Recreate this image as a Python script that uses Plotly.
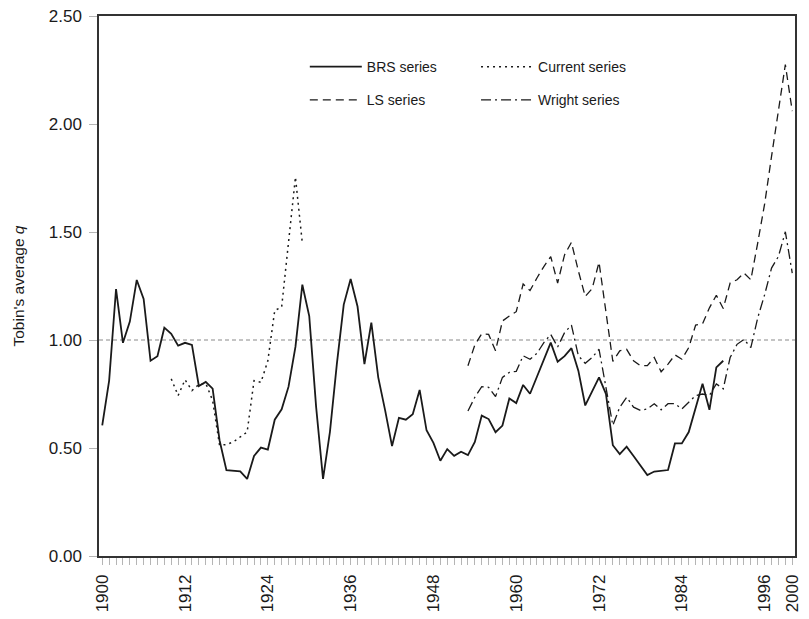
import plotly.graph_objects as go

# Tobin's average q, annual estimates 1900-2000
brs_years = list(range(1900, 1991))
brs_q = [
    0.605, 0.812, 1.236, 0.987, 1.085, 1.278, 1.190, 0.904, 0.925, 1.057,  # 1900-1909
    1.029, 0.974, 0.987, 0.977, 0.787, 0.806, 0.775, 0.536, 0.397, 0.395,  # 1910-1919
    0.392, 0.357, 0.463, 0.502, 0.493, 0.631, 0.679, 0.784, 0.968, 1.256,  # 1920-1929
    1.111, 0.689, 0.357, 0.575, 0.888, 1.164, 1.282, 1.155, 0.888, 1.080,  # 1930-1939
    0.827, 0.674, 0.509, 0.640, 0.631, 0.656, 0.769, 0.582, 0.524, 0.441,  # 1940-1949
    0.495, 0.464, 0.483, 0.467, 0.528, 0.650, 0.634, 0.573, 0.604, 0.729,  # 1950-1959
    0.708, 0.792, 0.751, 0.830, 0.907, 0.988, 0.899, 0.925, 0.962, 0.858,  # 1960-1969
    0.697, 0.761, 0.827, 0.751, 0.513, 0.472, 0.506, 0.463, 0.421, 0.375,  # 1970-1979
    0.391, 0.395, 0.398, 0.521, 0.521, 0.574, 0.689, 0.797, 0.677, 0.873,  # 1980-1989
    0.904,                                                                 # 1990
]

current_years = list(range(1910, 1930))
current_q = [
    0.820, 0.743, 0.816, 0.766, 0.794, 0.800, 0.720, 0.513, 0.516, 0.528,  # 1910-1919
    0.551, 0.574, 0.812, 0.804, 0.904, 1.137, 1.152, 1.450, 1.754, 1.448,  # 1920-1929
]

ls_years = list(range(1953, 2001))
ls_q = [
    0.881, 0.977, 1.029, 1.026, 0.950, 1.088, 1.111,                       # 1953-1959
    1.131, 1.259, 1.229, 1.287, 1.340, 1.386, 1.264, 1.394, 1.452, 1.320,  # 1960-1969
    1.202, 1.238, 1.360, 1.130, 0.901, 0.950, 0.957, 0.904, 0.881, 0.881,  # 1970-1979
    0.919, 0.853, 0.888, 0.931, 0.911, 0.965, 1.069, 1.075, 1.149, 1.207,  # 1980-1989
    1.146, 1.264, 1.279, 1.310, 1.279, 1.450, 1.630, 1.850, 2.060, 2.275,  # 1990-1999
    2.060,                                                                 # 2000
]

wright_years = list(range(1953, 2001))
wright_q = [
    0.671, 0.735, 0.784, 0.781, 0.738, 0.827, 0.850,                       # 1953-1959
    0.855, 0.927, 0.911, 0.938, 0.988, 1.026, 0.968, 1.034, 1.069, 0.927,  # 1960-1969
    0.892, 0.919, 0.957, 0.781, 0.605, 0.689, 0.735, 0.689, 0.674, 0.681,  # 1970-1979
    0.705, 0.677, 0.705, 0.705, 0.681, 0.712, 0.743, 0.750, 0.743, 0.797,  # 1980-1989
    0.774, 0.919, 0.980, 1.003, 0.965, 1.103, 1.210, 1.333, 1.387, 1.501,  # 1990-1999
    1.310,                                                                 # 2000
]

parity_q = 1.0
x_tick_years = [1900, 1912, 1924, 1936, 1948, 1960, 1972, 1984, 1996, 2000]
y_tick_values = [0.0, 0.5, 1.0, 1.5, 2.0, 2.5]
y_tick_labels = ["0.00", "0.50", "1.00", "1.50", "2.00", "2.50"]

FONT = "Liberation Sans, Arial, Helvetica, sans-serif"
INK = "#1a1a1a"

fig = go.Figure()

fig.add_trace(go.Scatter(
    x=brs_years, y=brs_q, mode="lines", name="BRS series",
    line=dict(color=INK, width=1.8), legend="legend", legendgroup="brs",
))
fig.add_trace(go.Scatter(
    x=ls_years, y=ls_q, mode="lines", name="LS series",
    line=dict(color=INK, width=1.3, dash="8px,5px"), legend="legend", legendgroup="ls",
))
fig.add_trace(go.Scatter(
    x=current_years, y=current_q, mode="lines", name="Current series",
    line=dict(color=INK, width=1.5, dash="2px,4px"), legend="legend2", legendgroup="cur",
))
fig.add_trace(go.Scatter(
    x=wright_years, y=wright_q, mode="lines", name="Wright series",
    line=dict(color=INK, width=1.3, dash="10px,4px,2px,4px"), legend="legend2", legendgroup="wr",
))

# q = 1 reference line
fig.add_hline(y=parity_q, line=dict(color="#8a8a8a", width=1.2, dash="4px,3px"), layer="below")

legend_common = dict(
    orientation="v", xanchor="left", yanchor="top",
    bgcolor="rgba(0,0,0,0)", borderwidth=0,
    font=dict(family=FONT, size=14, color=INK),
    traceorder="grouped", tracegroupgap=12,
    itemwidth=52,
)

fig.update_layout(
    width=809, height=619,
    margin=dict(l=99, r=7, t=16, b=59),
    paper_bgcolor="white", plot_bgcolor="white",
    font=dict(family=FONT, size=16, color=INK),
    showlegend=True,
    legend=dict(x=0.2957, y=0.935, **legend_common),
    legend2=dict(x=0.5417, y=0.935, **legend_common),
    xaxis=dict(
        range=[1899.53, 2000.4],
        tickmode="array", tickvals=x_tick_years, ticktext=[str(v) for v in x_tick_years],
        tickangle=-90,
        ticks="outside", ticklen=7, tickcolor="#b5b5b5", tickwidth=1,
        minor=dict(dtick=1, tick0=1900, ticks="outside", ticklen=7, tickcolor="#b5b5b5", tickwidth=1),
        showgrid=False, zeroline=False,
        showline=True, linecolor="#333333", linewidth=1.5, mirror=True,
        tickfont=dict(family=FONT, size=17, color=INK),
        ticklabelstandoff=3,
    ),
    yaxis=dict(
        range=[0, 2.5],
        tickmode="array", tickvals=y_tick_values, ticktext=y_tick_labels,
        ticks="outside", ticklen=8, tickcolor="#b5b5b5", tickwidth=1,
        showgrid=False, zeroline=False,
        showline=True, linecolor="#333333", linewidth=1.5, mirror=True,
        tickfont=dict(family=FONT, size=17, color=INK),
        ticklabelstandoff=4,
        title=dict(text="Tobin's average <i>q</i>", font=dict(family=FONT, size=15.5, color=INK), standoff=20),
    ),
)

fig.write_html("out.html")
